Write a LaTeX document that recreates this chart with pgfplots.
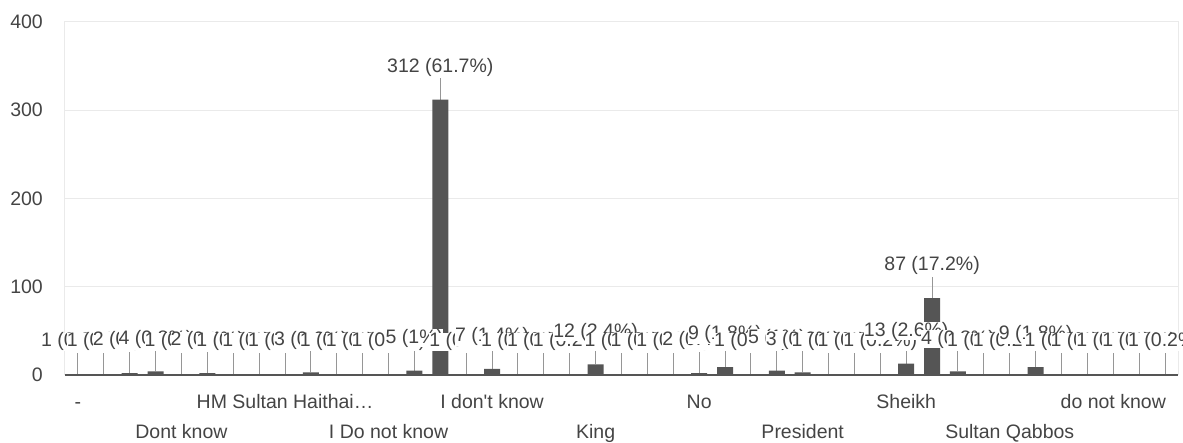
\documentclass[border=0pt]{standalone}
\usepackage{fontspec}
\setmainfont{Liberation Sans}
\usepackage{pgfplots}
\pgfplotsset{compat=1.18}
\definecolor{bargray}{RGB}{85,85,85}
\definecolor{txt}{RGB}{68,68,68}
\definecolor{gridc}{RGB}{234,234,234}
\definecolor{leader}{RGB}{150,150,150}
\definecolor{basec}{RGB}{85,85,85}
\begin{document}
\begin{tikzpicture}[x=1pt,y=1pt]
\path[use as bounding box] (-65,-68) rectangle (1118,375);
\begin{axis}[
  at={(0,0)}, anchor=south west,
  scale only axis, width=1113pt, height=353pt,
  xmin=-0.5, xmax=42.5, ymin=0, ymax=400,
  ytick={0,100,200,300,400},
  ymajorgrids, grid style={gridc, line width=1pt},
  axis line style={gridc, line width=1pt},
  major tick length=0pt,
  tick label style={font=\fontsize{19.5}{22}\selectfont, text=txt},
  yticklabel style={inner sep=0pt, xshift=-22pt},
  /pgf/number format/assume math mode=true,
  xtick={0,8,16,24,32,40},
  xticklabels={-, HM Sultan Haithai…, I don\textquotesingle t know, No, Sheikh, do not know},
  xticklabel style={anchor=base, inner sep=0pt, yshift=-34pt},
  extra x ticks={4,12,20,28,36},
  extra x tick labels={Dont know, I Do not know, King, President, Sultan Qabbos},
  extra x tick style={xticklabel style={yshift=-30pt}, grid=none},
  clip=false,
]
\addplot[forget plot, draw=none, error bars/.cd, y dir=plus, y fixed=24, error mark=none,
  error bar style={draw=leader, line width=1pt}] coordinates {
(0,1) (1,1) (2,2) (3,4) (4,1) (5,2) (6,1) (7,1) (8,1) (9,3) (10,1) (11,1) (12,1) (13,5) (14,312)
(15,1) (16,7) (17,1) (18,1) (19,1) (20,12) (21,1) (22,1) (23,1) (24,2) (25,9) (26,1) (27,5) (28,3)
(29,1) (30,1) (31,1) (32,13) (33,87) (34,4) (35,1) (36,1) (37,9) (38,1) (39,1) (40,1) (41,1) (42,1)
};
\addplot[ybar, bar width=16pt, fill=bargray, draw=none,
  point meta=explicit symbolic, nodes near coords,
  every node near coord/.append style={font=\fontsize{19.5}{22}\selectfont, text=txt, fill=white, inner sep=0pt, yshift=23pt}]
coordinates {
(0,1) [1 (0.2\%)]
(1,1) [1 (0.2\%)]
(2,2) [2 (0.4\%)]
(3,4) [4 (0.8\%)]
(4,1) [1 (0.2\%)]
(5,2) [2 (0.4\%)]
(6,1) [1 (0.2\%)]
(7,1) [1 (0.2\%)]
(8,1) [1 (0.2\%)]
(9,3) [3 (0.6\%)]
(10,1) [1 (0.2\%)]
(11,1) [1 (0.2\%)]
(12,1) [1 (0.2\%)]
(13,5) [5 (1\%)]
(14,312) [312 (61.7\%)]
(15,1) [1 (0.2\%)]
(16,7) [7 (1.4\%)]
(17,1) [1 (0.2\%)]
(18,1) [1 (0.2\%)]
(19,1) [1 (0.2\%)]
(20,12) [12 (2.4\%)]
(21,1) [1 (0.2\%)]
(22,1) [1 (0.2\%)]
(23,1) [1 (0.2\%)]
(24,2) [2 (0.4\%)]
(25,9) [9 (1.8\%)]
(26,1) [1 (0.2\%)]
(27,5) [5 (1\%)]
(28,3) [3 (0.6\%)]
(29,1) [1 (0.2\%)]
(30,1) [1 (0.2\%)]
(31,1) [1 (0.2\%)]
(32,13) [13 (2.6\%)]
(33,87) [87 (17.2\%)]
(34,4) [4 (0.8\%)]
(35,1) [1 (0.2\%)]
(36,1) [1 (0.2\%)]
(37,9) [9 (1.8\%)]
(38,1) [1 (0.2\%)]
(39,1) [1 (0.2\%)]
(40,1) [1 (0.2\%)]
(41,1) [1 (0.2\%)]
(42,1) [1 (0.2\%)]
};
\draw[basec, line width=1.5pt] (rel axis cs:0,0) -- (rel axis cs:1,0);
\end{axis}
\end{tikzpicture}
\end{document}
